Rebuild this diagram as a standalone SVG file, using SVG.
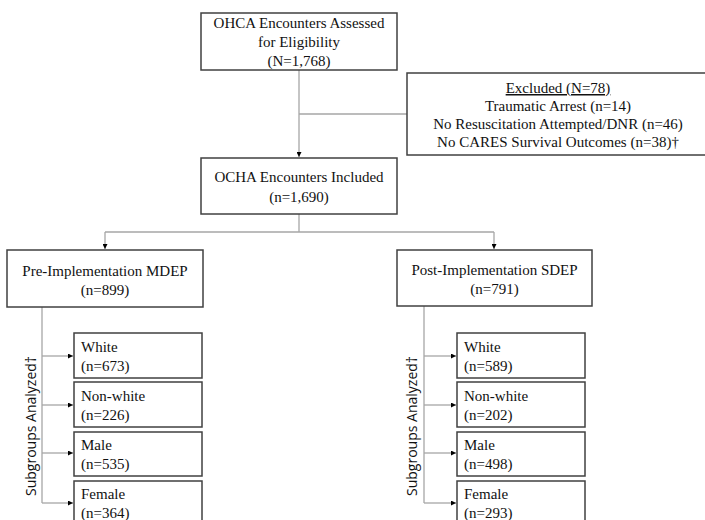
<svg xmlns="http://www.w3.org/2000/svg" width="705" height="520" viewBox="0 0 705 520">
<style>
.box{fill:#fff;stroke:#404040;stroke-width:1.5}
.t{font-family:"Liberation Serif","Times New Roman",serif;font-size:15px;fill:#111}
.c{text-anchor:middle}
.conn{fill:none;stroke:#a6a6a6;stroke-width:1.3}
.side{font-family:"Open Sans","DejaVu Sans",sans-serif;font-size:14px;fill:#111;text-anchor:middle}
</style>
<defs>
<marker id="ah" viewBox="0 0 10 10" refX="10" refY="5" markerWidth="5" markerHeight="5" orient="auto" markerUnits="userSpaceOnUse">
<path d="M0,0 L10,5 L0,10 z" fill="#000"/>
</marker>
</defs>
<rect width="705" height="520" fill="#fff"/>
<g id="connectors">
<path class="conn" d="M299,70 V157" marker-end="url(#ah)"/>
<path class="conn" d="M299,114 H407"/>
<path class="conn" d="M299,214 V232"/>
<path class="conn" d="M105,232 H494"/>
<path class="conn" d="M105,232 V249" marker-end="url(#ah)"/>
<path class="conn" d="M494,232 V249" marker-end="url(#ah)"/>
<path class="conn" d="M42,307 V503"/>
<path class="conn" d="M42,356 H73" marker-end="url(#ah)"/>
<path class="conn" d="M42,405 H73" marker-end="url(#ah)"/>
<path class="conn" d="M42,453 H73" marker-end="url(#ah)"/>
<path class="conn" d="M42,503 H73" marker-end="url(#ah)"/>
<path class="conn" d="M424,306 V503"/>
<path class="conn" d="M424,356 H456" marker-end="url(#ah)"/>
<path class="conn" d="M424,405 H456" marker-end="url(#ah)"/>
<path class="conn" d="M424,453 H456" marker-end="url(#ah)"/>
<path class="conn" d="M424,503 H456" marker-end="url(#ah)"/>
</g>
<g id="assessed">
<rect class="box" x="201" y="13" width="196" height="57"/>
<text class="t c" x="299" y="28">OHCA Encounters Assessed</text>
<text class="t c" x="299" y="47">for Eligibility</text>
<text class="t c" x="299" y="66">(N=1,768)</text>
</g>
<g id="excluded">
<rect class="box" x="407" y="73" width="306" height="82"/>
<text class="t c" x="558" y="93" text-decoration="underline">Excluded (N=78)</text>
<text class="t c" x="558" y="111">Traumatic Arrest (n=14)</text>
<text class="t c" x="558" y="129">No Resuscitation Attempted/DNR (n=46)</text>
<text class="t c" x="558" y="147">No CARES Survival Outcomes (n=38)†</text>
</g>
<g id="included">
<rect class="box" x="201" y="158" width="196" height="56"/>
<text class="t c" x="299" y="182">OCHA Encounters Included</text>
<text class="t c" x="299" y="202">(n=1,690)</text>
</g>
<g id="pre">
<rect class="box" x="7" y="250" width="196" height="57"/>
<text class="t c" x="105" y="276">Pre-Implementation MDEP</text>
<text class="t c" x="105" y="295">(n=899)</text>
</g>
<g id="post">
<rect class="box" x="397" y="250" width="195" height="56"/>
<text class="t c" x="494.5" y="275">Post-Implementation SDEP</text>
<text class="t c" x="494.5" y="294">(n=791)</text>
</g>
<g id="pre-sub-label">
<text class="side" transform="translate(36,426) rotate(-90)">Subgroups Analyzed†</text>
</g>
<g id="post-sub-label">
<text class="side" transform="translate(417,426) rotate(-90)">Subgroups Analyzed†</text>
</g>
<g id="pre-white">
<rect class="box" x="74" y="333" width="128" height="45"/>
<text class="t" x="81" y="352">White</text>
<text class="t" x="81" y="371">(n=673)</text>
</g>
<g id="pre-nonwhite">
<rect class="box" x="74" y="382" width="128" height="45"/>
<text class="t" x="81" y="401">Non-white</text>
<text class="t" x="81" y="420">(n=226)</text>
</g>
<g id="pre-male">
<rect class="box" x="74" y="432" width="128" height="44"/>
<text class="t" x="81" y="450">Male</text>
<text class="t" x="81" y="469">(n=535)</text>
</g>
<g id="pre-female">
<rect class="box" x="74" y="481" width="128" height="45"/>
<text class="t" x="81" y="499">Female</text>
<text class="t" x="81" y="518">(n=364)</text>
</g>
<g id="post-white">
<rect class="box" x="457" y="333" width="128" height="45"/>
<text class="t" x="464" y="352">White</text>
<text class="t" x="464" y="371">(n=589)</text>
</g>
<g id="post-nonwhite">
<rect class="box" x="457" y="382" width="128" height="45"/>
<text class="t" x="464" y="401">Non-white</text>
<text class="t" x="464" y="420">(n=202)</text>
</g>
<g id="post-male">
<rect class="box" x="457" y="432" width="128" height="44"/>
<text class="t" x="464" y="450">Male</text>
<text class="t" x="464" y="469">(n=498)</text>
</g>
<g id="post-female">
<rect class="box" x="457" y="481" width="128" height="45"/>
<text class="t" x="464" y="499">Female</text>
<text class="t" x="464" y="518">(n=293)</text>
</g>
</svg>
